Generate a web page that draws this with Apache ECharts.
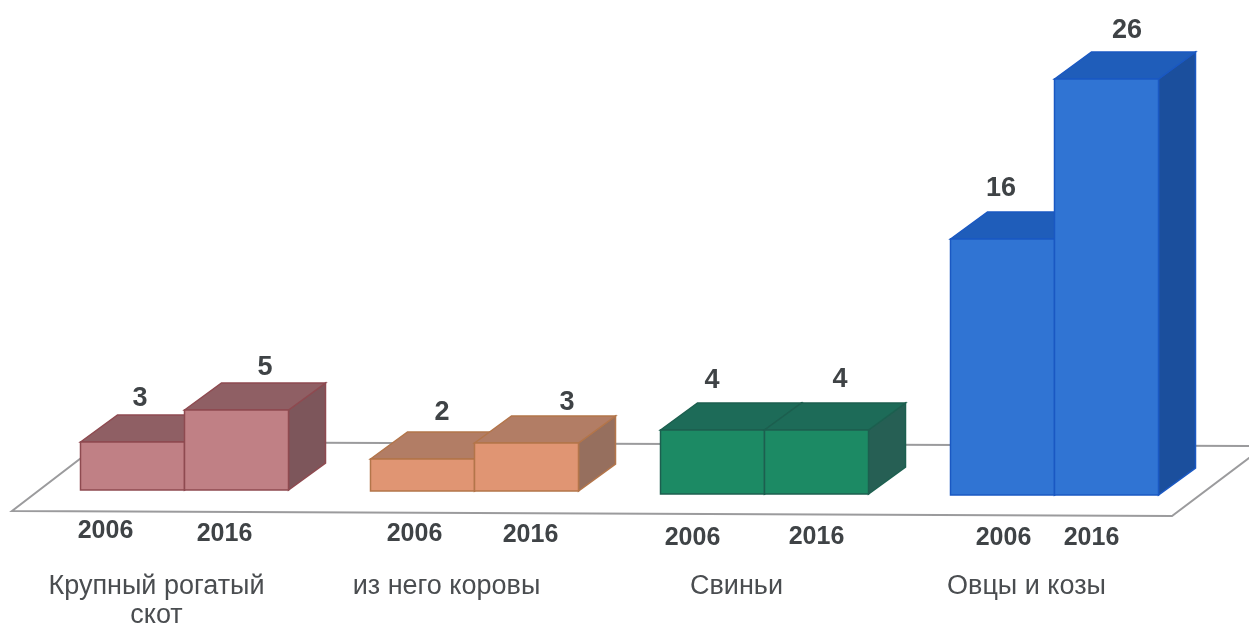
<!DOCTYPE html>
<html><head><meta charset="utf-8">
<script src="https://cdn.jsdelivr.net/npm/echarts@6/dist/echarts.min.js"></script>
<style>html,body{margin:0;padding:0;background:#fff}#c{width:1249px;height:624px}</style>
</head><body><div id="c"></div>
<script>
const categories = ['Крупный рогатый\nскот', 'из него коровы', 'Свиньи', 'Овцы и козы'];
const years = ['2006', '2016'];
const values2006 = [3, 2, 4, 16];
const values2016 = [5, 3, 4, 26];

// appearance only
const palette = [
  {front:'#c08085', top:'#8f5f64', side:'#7d565b', edge:'#8e4a50'},
  {front:'#e09573', top:'#b27d65', side:'#966f5e', edge:'#b3754a'},
  {front:'#1c8a64', top:'#1d6b58', side:'#265f54', edge:'#1c5f4f'},
  {front:'#3074d3', top:'#1f5dba', side:'#1b4f9d', edge:'#1a58c2'}
];
const baseShift = [0, 1, 4, 5];
const valueLabelShift = [[-11, 10], [1, 22], [-19, 5], [-20, 2]];
const valueLabelGap = [[3, 4], [0, 6], [-3, -4], [-4, -2]];
const yearLabelShift = [[-27, -12], [-8, 4], [-20, 0], [1, -15]];
const yearLabelY = [[531, 534], [534, 535], [538, 537], [538, 538]];
const DX = 37, DY = -27, BAR = 104;
const TEXT = '#3f4346';

function makeBar(seriesIdx) {
  return function (params, api) {
    const i = api.value(0), v = api.value(1);
    const c = api.coord([i, v]), b = api.coord([i, 0]);
    const shift = baseShift[i], p = palette[i];
    const x0 = seriesIdx === 0 ? c[0] - BAR : c[0];
    const x1 = x0 + BAR;
    const yTop = c[1] + shift, yBot = b[1] + shift;
    const line = {stroke: p.edge, lineWidth: 1.5};
    const poly = (pts, fill) => ({type: 'polygon', shape: {points: pts}, style: Object.assign({fill}, line)});
    const cxv = (x0 + x1) / 2 + DX / 2 + valueLabelShift[i][seriesIdx];
    const cxy = (x0 + x1) / 2 + yearLabelShift[i][seriesIdx];
    return {type: 'group', children: [
      poly([[x1, yTop], [x1 + DX, yTop + DY], [x1 + DX, yBot + DY], [x1, yBot]], p.side),
      poly([[x0, yTop], [x0 + DX, yTop + DY], [x1 + DX, yTop + DY], [x1, yTop]], p.top),
      poly([[x0, yTop], [x1, yTop], [x1, yBot], [x0, yBot]], p.front),
      {type: 'text', style: {text: String(v), x: cxv, y: yTop + DY - 19 + valueLabelGap[i][seriesIdx], align: 'center', verticalAlign: 'middle',
        font: 'bold 27px "Liberation Sans", Arial, sans-serif', fill: TEXT}},
      {type: 'text', style: {text: years[seriesIdx], x: cxy, y: yearLabelY[i][seriesIdx], align: 'center', verticalAlign: 'middle',
        font: 'bold 25px "Liberation Sans", Arial, sans-serif', fill: TEXT}}
    ]};
  };
}

const chart = echarts.init(document.getElementById('c'), null, {renderer: 'canvas'});
chart.setOption({
  animation: false,
  backgroundColor: '#ffffff',
  grid: {left: 39.5, width: 1160, top: 10, height: 480, outerBoundsMode: 'none', containLabel: false},
  xAxis: {type: 'category', data: categories, axisLine: {show: false}, axisTick: {show: false}, splitLine: {show: false},
    axisLabel: {margin: 82, interval: 0, hideOverlap: false, color: '#4a4d50', fontFamily: '"Liberation Sans", Arial, sans-serif', fontSize: 27, lineHeight: 29, padding: [0, 56, 0, 0], verticalAlign: 'top'}},
  yAxis: {type: 'value', min: 0, max: 30, show: false, splitLine: {show: false}},
  graphic: [
    {type: 'polygon', z: 0, silent: true, shape: {points: [[12, 511], [1172, 516], [1265, 446], [102, 442]]},
      style: {fill: 'rgba(255,255,255,0)', stroke: '#9b9b9d', lineWidth: 2}}
  ],
  series: [
    {type: 'custom', name: years[0], z: 2, renderItem: makeBar(0), encode: {x: 0, y: 1}, data: values2006.map((v, i) => [i, v])},
    {type: 'custom', name: years[1], z: 3, renderItem: makeBar(1), encode: {x: 0, y: 1}, data: values2016.map((v, i) => [i, v])}
  ]
});
</script></body></html>
